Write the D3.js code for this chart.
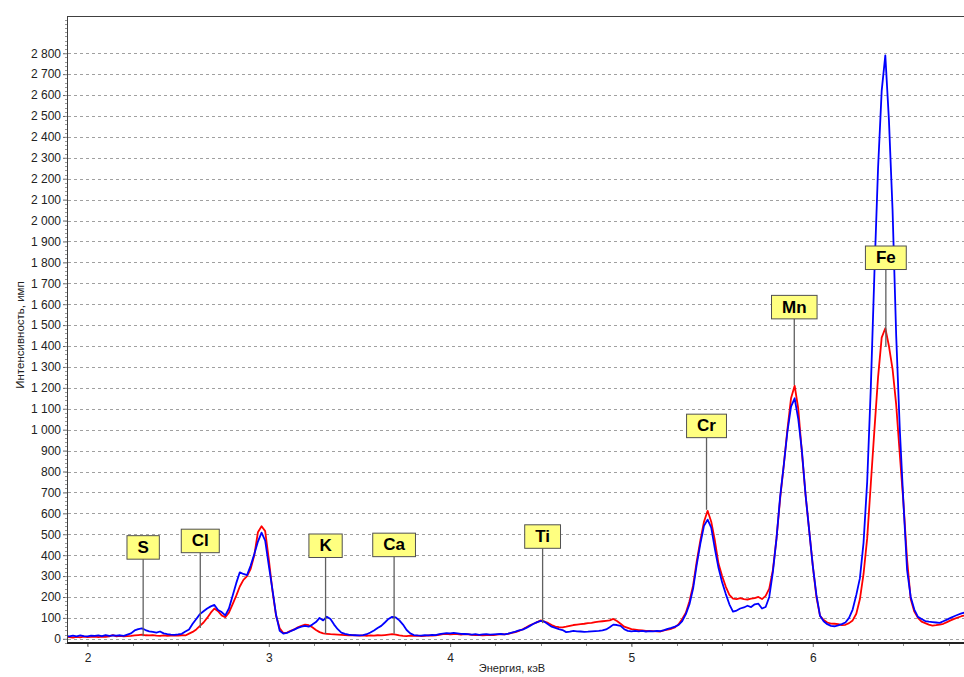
<!DOCTYPE html>
<html>
<head>
<meta charset="utf-8">
<script src="https://cdn.jsdelivr.net/npm/d3@7"></script>
<style>
  html, body { margin: 0; padding: 0; background: #fff; }
  svg { display: block; font-family: "Liberation Sans", Arial, sans-serif; }
</style>
</head>
<body>
<svg id="chart" width="964" height="677"></svg>
<script>
// Spectrum channel calibration (keV)
const energyStart = 1.88;
const energyStep = 0.02;

// Series 1 (red)
const redCounts = [
  10, 8, 6, 9, 7, 10, 8, 9, 11, 8,
  10, 9, 12, 18, 12, 14, 12, 13, 14, 16,
  18, 20, 17, 16, 18, 15, 14, 16, 14, 15,
  16, 15, 17, 16, 25, 33, 45, 62, 78, 100,
  125, 145, 132, 112, 103, 125, 165, 205, 250, 282,
  300, 335, 400, 510, 538, 515, 380, 230, 110, 50,
  28, 30, 38, 45, 55, 62, 68, 65, 55, 42,
  32, 26, 24, 22, 21, 20, 19, 18, 17, 18,
  16, 15, 16, 14, 16, 15, 17, 16, 18, 20,
  22, 20, 16, 14, 13, 15, 14, 15, 13, 14,
  16, 15, 17, 19, 22, 24, 21, 23, 22, 20,
  22, 21, 19, 18, 18, 17, 18, 19, 18, 20,
  22, 21, 24, 28, 32, 38, 46, 55, 65, 72,
  80, 88, 82, 76, 66, 58, 56, 55, 58, 62,
  66, 68, 70, 72, 75, 76, 80, 82, 84, 86,
  88, 95, 85, 72, 58, 52, 46, 44, 42, 40,
  38, 38, 37, 36, 35, 40, 44, 48, 55, 70,
  95, 125, 180, 255, 370, 470, 560, 612, 560, 470,
  360, 300, 250, 210, 192, 190, 195, 190, 188, 192,
  195, 200, 190, 205, 240, 330, 480, 670, 830, 1000,
  1150, 1210, 1100, 890, 690, 520, 350, 200, 110, 90,
  78, 73, 72, 70, 65, 67, 75, 88, 120, 190,
  310, 480, 740, 1000, 1250, 1440, 1485, 1400, 1290, 1120,
  880, 650, 380, 190, 130, 100, 82, 75, 68, 63,
  65, 68, 72, 80, 88, 95, 102, 108, 112
];

// Series 2 (blue)
const blueCounts = [
  14, 12, 15, 12, 16, 13, 12, 15, 14, 16,
  13, 18, 14, 16, 15, 17, 14, 20, 26, 40,
  46, 50, 42, 36, 33, 30, 35, 26, 22, 20,
  19, 21, 24, 35, 45, 72, 95, 118, 132, 145,
  155, 162, 138, 128, 112, 145, 205, 265, 318, 310,
  305, 350, 405, 465, 508, 470, 350, 235, 115, 38,
  25, 28, 36, 44, 52, 58, 62, 58, 68, 80,
  100, 88, 106, 95, 68, 46, 30, 24, 20, 18,
  17, 16, 18, 22, 30, 40, 52, 62, 78, 95,
  105, 102, 88, 68, 42, 26, 18, 16, 15, 17,
  16, 19, 18, 22, 25, 27, 26, 28, 26, 24,
  23, 22, 20, 22, 19, 21, 22, 20, 21, 22,
  23, 21, 25, 30, 34, 40, 44, 52, 62, 72,
  80, 86, 82, 70, 58, 52, 46, 42, 32, 34,
  38, 36, 35, 33, 34, 36, 37, 38, 40, 45,
  55, 68, 66, 62, 46, 38, 36, 38, 36, 38,
  35, 37, 36, 38, 37, 42, 48, 52, 58, 66,
  85, 118, 165, 240, 355, 455, 540, 570, 532, 430,
  340, 270, 215, 165, 130, 135, 145, 150, 158, 152,
  165, 168, 145, 152, 200, 320, 480, 680, 830, 990,
  1110, 1150, 1050, 900, 690, 520, 350, 210, 110, 84,
  70, 62, 60, 64, 70, 78, 100, 140, 210, 290,
  460, 750, 1200, 1750, 2250, 2620, 2790, 2480, 2050, 1450,
  1000, 650, 330, 200, 140, 105, 95, 85, 82, 80,
  78, 76, 84, 92, 100, 108, 115, 122, 126
];

// Axis ticks
const yTickValues = [0, 100, 200, 300, 400, 500, 600, 700, 800, 900, 1000, 1100, 1200, 1300,
  1400, 1500, 1600, 1700, 1800, 1900, 2000, 2100, 2200, 2300, 2400, 2500, 2600, 2700, 2800];
const xTickValues = [2, 3, 4, 5, 6];
const xMinorTickValues = [2, 2.25, 2.5, 2.75, 3, 3.25, 3.5, 3.75, 4, 4.25, 4.5, 4.75, 5, 5.25, 5.5, 5.75, 6, 6.25, 6.5, 6.75];

// Element markers
const elementNames = ["S", "Cl", "K", "Ca", "Ti", "Cr", "Mn", "Fe"];
const elementEnergies = [2.307, 2.622, 3.313, 3.691, 4.510, 5.414, 5.898, 6.403];
const elementLineEnds = [12, 52, 24, 24, 75, 617, 1214, 1396];
const elementLabelLevels = [437, 468, 445, 449, 489, 1018, 1586, 1822];

const xTitle = "Энергия, кэВ";
const yTitle = "Интенсивность, имп";

// ---------------------------------------------------------------
const svg = d3.select("#chart");
const mLeft = 67, mRight = 964, mTop = 16, mBottom = 643;

const x = d3.scaleLinear().domain([1.887, 6.834]).range([mLeft, mRight]);
const y = d3.scaleLinear().domain([-20, 2978]).range([mBottom, mTop]);

const ru = d3.formatLocale({decimal: ",", thousands: "\u00a0", grouping: [3], currency: ["", ""]});
const fmt = ru.format(",");

// gridlines
svg.append("g")
  .selectAll("line")
  .data(yTickValues)
  .join("line")
  .attr("x1", mLeft + 1).attr("x2", mRight)
  .attr("y1", d => Math.round(y(d)) + 0.5).attr("y2", d => Math.round(y(d)) + 0.5)
  .attr("stroke", "#a0a0a0")
  .attr("stroke-width", 1)
  .attr("stroke-dasharray", "3,3");

// series
const line = d3.line()
  .x((d, i) => x(energyStart + i * energyStep))
  .y(d => y(d));

svg.append("defs").append("clipPath").attr("id", "clip")
  .append("rect").attr("x", mLeft).attr("y", mTop).attr("width", mRight - mLeft).attr("height", mBottom - mTop);

const plot = svg.append("g").attr("clip-path", "url(#clip)");
plot.append("path")
  .datum(redCounts)
  .attr("d", line)
  .attr("fill", "none")
  .attr("stroke", "#ff0000")
  .attr("stroke-width", 1.8)
  .attr("stroke-linejoin", "round");
plot.append("path")
  .datum(blueCounts)
  .attr("d", line)
  .attr("fill", "none")
  .attr("stroke", "#0000ff")
  .attr("stroke-width", 1.8)
  .attr("stroke-linejoin", "round");

// element markers
const markers = svg.append("g");
elementNames.forEach((name, i) => {
  const cx = x(elementEnergies[i]);
  const cy = y(elementLabelLevels[i]);
  const g = markers.append("g");
  const t = g.append("text")
    .attr("x", cx).attr("y", cy)
    .attr("text-anchor", "middle")
    .attr("dominant-baseline", "central")
    .attr("font-size", 17)
    .attr("font-weight", "bold")
    .attr("fill", "#000")
    .text(name);
  const w = t.node().getComputedTextLength() + 21;
  const h = 23.5;
  g.insert("line", "text")
    .attr("x1", cx).attr("x2", cx)
    .attr("y1", cy + h / 2).attr("y2", y(elementLineEnds[i]))
    .attr("stroke", "#606060")
    .attr("stroke-width", 1.3);
  g.insert("rect", "text")
    .attr("x", cx - w / 2).attr("y", cy - h / 2)
    .attr("width", w).attr("height", h)
    .attr("fill", "#ffff80")
    .attr("stroke", "#505050")
    .attr("stroke-width", 1);
});

// frame
svg.append("line").attr("x1", mLeft).attr("x2", mRight).attr("y1", mTop + 0.5).attr("y2", mTop + 0.5)
  .attr("stroke", "#404040").attr("stroke-width", 1);
svg.append("line").attr("x1", mLeft + 0.5).attr("x2", mLeft + 0.5).attr("y1", mTop).attr("y2", mBottom)
  .attr("stroke", "#404040").attr("stroke-width", 1);

// Y axis
const yAxis = svg.append("g").attr("transform", `translate(${mLeft},0)`)
  .call(d3.axisLeft(y).tickValues(yTickValues).tickFormat(fmt).tickSize(4).tickPadding(2));
yAxis.select(".domain").remove();
yAxis.selectAll("text").attr("font-size", 12).attr("fill", "#222").attr("font-family", "Liberation Sans, Arial, sans-serif");
yAxis.selectAll("line").attr("stroke", "#666");

// y minor ticks
const yMinor = d3.range(-20, 2978, 20);
svg.append("g").selectAll("line").data(yMinor).join("line")
  .attr("x1", mLeft - 2).attr("x2", mLeft)
  .attr("y1", d => Math.round(y(d)) + 0.5).attr("y2", d => Math.round(y(d)) + 0.5)
  .attr("stroke", "#999");

// X axis
const xAxis = svg.append("g").attr("transform", `translate(0,${mBottom})`)
  .call(d3.axisBottom(x).tickValues(xTickValues).tickFormat(d3.format("d")).tickSize(4).tickPadding(6));
xAxis.select(".domain").remove();
xAxis.selectAll("text").attr("font-size", 12).attr("fill", "#222").attr("font-family", "Liberation Sans, Arial, sans-serif");
xAxis.selectAll("line").attr("stroke", "#666");
svg.append("g").selectAll("line").data(xMinorTickValues).join("line")
  .attr("x1", d => Math.round(x(d)) + 0.5).attr("x2", d => Math.round(x(d)) + 0.5)
  .attr("y1", mBottom).attr("y2", mBottom + 3)
  .attr("stroke", "#888");
svg.append("line").attr("x1", mLeft).attr("x2", mRight).attr("y1", mBottom).attr("y2", mBottom)
  .attr("stroke", "#222").attr("stroke-width", 2);

// titles
svg.append("text")
  .attr("x", 512).attr("y", 672)
  .attr("text-anchor", "middle")
  .attr("font-size", 11)
  .attr("fill", "#222")
  .text(xTitle);
svg.append("text")
  .attr("transform", "translate(24,335) rotate(-90)")
  .attr("text-anchor", "middle")
  .attr("font-size", 11.5)
  .attr("fill", "#222")
  .text(yTitle);
</script>
</body>
</html>
